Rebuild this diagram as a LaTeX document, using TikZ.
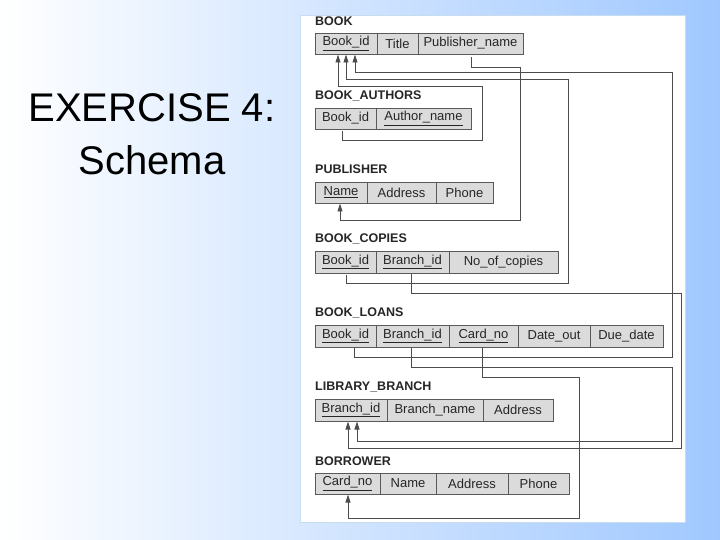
\documentclass[tikz,border=0pt]{standalone}
\usepackage{fontspec}
\setmainfont{Liberation Sans}
\usetikzlibrary{arrows.meta}
\newcommand\mycell[7]{\node[cellst, minimum width={(#3-#2)*1pt}, minimum height={(#5-#4)*1pt}] (#1) at ({(#2+#3)/2},{(#4+#5)/2}) {#6};}
\newcommand\ul[1]{\underline{#1}}
\newcommand\tlabel[3]{\node[lab] (#1) at (315,#2) {#3};}
\begin{document}
\begin{tikzpicture}[x=1pt,y=-1pt,
  cellst/.style={draw=black!65, fill=black!14, line width=0.9pt, inner sep=0pt, font=\fontsize{13}{15}\selectfont, text=black!85},
  lab/.style={anchor=west, inner sep=0pt, font=\bfseries\fontsize{12.5}{14}\selectfont, text=black!85},
  conn/.style={draw=black!70, line width=0.9pt},
  fk/.style={conn, -{Triangle[width=5pt,length=8pt]}},
  title/.style={font=\fontsize{40}{44}\selectfont, text=black}]
\useasboundingbox (0,0) rectangle (720,540);
\shade[left color=white, right color={rgb,255:red,160;green,200;blue,255}] (0,0) rectangle (720,540);
\fill[white] (300,15) rectangle (685,522);
\draw[draw={rgb,255:red,200;green,220;blue,240}] (300,15) rectangle (685,522);
\node[title] (t1) at (152,108) {EXERCISE 4:};
\node[title] (t2) at (152,160) {Schema};
% BOOK
\tlabel{lb}{21}{BOOK}
\mycell{b1}{315}{377}{33}{54}{\ul{Book\_id}}{}
\mycell{b2}{377}{418}{33}{54}{Title}{}
\mycell{b3}{418}{523}{33}{54}{Publisher\_name}{}
% BOOK_AUTHORS
\tlabel{lba}{96}{BOOK\_AUTHORS}
\mycell{a1}{315}{376}{108}{129}{Book\_id}{}
\mycell{a2}{376}{471}{108}{129}{\ul{Author\_name}}{}
% PUBLISHER
\tlabel{lp}{169}{PUBLISHER}
\mycell{p1}{315}{367}{182}{203}{\ul{Name}}{}
\mycell{p2}{367}{436}{182}{203}{Address}{}
\mycell{p3}{436}{493}{182}{203}{Phone}{}
% BOOK_COPIES
\tlabel{lbc}{239}{BOOK\_COPIES}
\mycell{c1}{315}{376}{251}{273}{\ul{Book\_id}}{}
\mycell{c2}{376}{449}{251}{273}{\ul{Branch\_id}}{}
\mycell{c3}{449}{558}{251}{273}{No\_of\_copies}{}
% BOOK_LOANS
\tlabel{lbl}{313}{BOOK\_LOANS}
\mycell{l1}{315}{376}{325}{347}{\ul{Book\_id}}{}
\mycell{l2}{376}{449}{325}{347}{\ul{Branch\_id}}{}
\mycell{l3}{449}{518}{325}{347}{\ul{Card\_no}}{}
\mycell{l4}{518}{590}{325}{347}{Date\_out}{}
\mycell{l5}{590}{663}{325}{347}{Due\_date}{}
% LIBRARY_BRANCH
\tlabel{llb}{387}{LIBRARY\_BRANCH}
\mycell{r1}{315}{387}{399}{421}{\ul{Branch\_id}}{}
\mycell{r2}{387}{483}{399}{421}{Branch\_name}{}
\mycell{r3}{483}{553}{399}{421}{Address}{}
% BORROWER
\tlabel{lbo}{461}{BORROWER}
\mycell{o1}{315}{380}{473}{494}{\ul{Card\_no}}{}
\mycell{o2}{380}{436}{473}{494}{Name}{}
\mycell{o3}{436}{508}{473}{494}{Address}{}
\mycell{o4}{508}{569}{473}{494}{Phone}{}
% connectors
\draw[fk] ([xshift=-3pt,yshift=-2pt]a1.south) |- (482,140) |- (338,86) -- (338,54.5);
\draw[fk] ([xshift=1pt,yshift=-2pt]c1.south) |- (568,283) |- (346,79) -- (346,54.5);
\draw[fk] ([xshift=9pt,yshift=-1pt]l1.south) |- (672,357) |- (355,72) -- (355,54.5);
\draw[fk] ([xshift=1pt,yshift=-3pt]b3.south) |- (520,67) |- (340,220) -- (340,203.5);
\draw[fk] ([xshift=-1pt,yshift=-1pt]c2.south) |- (681,293) |- (348,448) -- (348,421.5);
\draw[fk] ([xshift=-1pt,yshift=-1pt]l2.south) |- (672,367) |- (357,441) -- (357,421.5);
\draw[fk] ([xshift=-1.5pt,yshift=-1pt]l3.south) |- (579,377) |- (348,518) -- (348,494.5);
\end{tikzpicture}
\end{document}
